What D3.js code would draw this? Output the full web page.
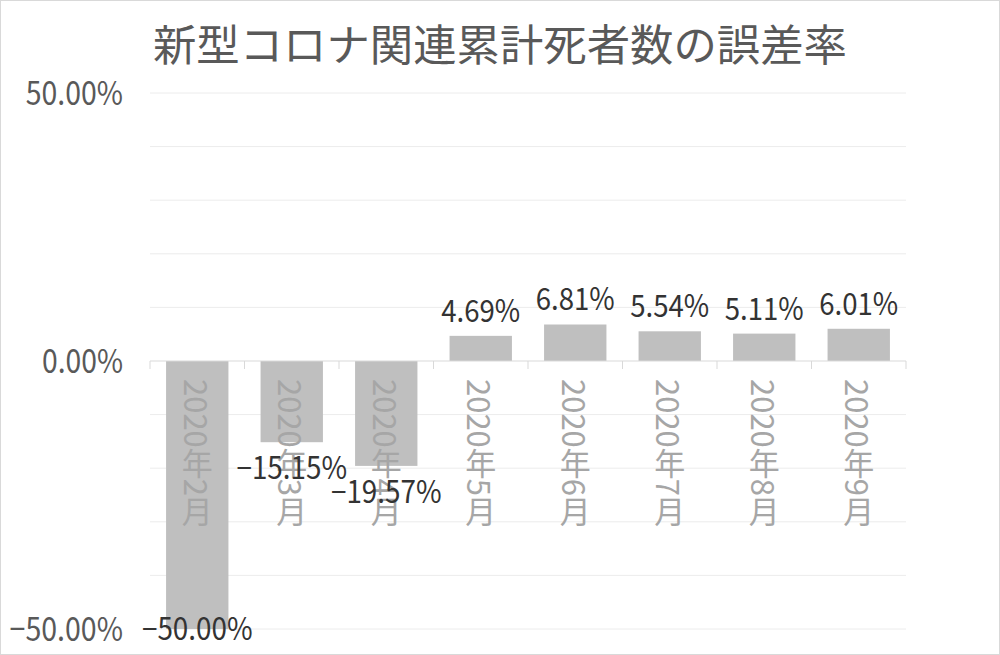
<!DOCTYPE html>
<html>
<head>
<meta charset="utf-8">
<script src="https://cdn.jsdelivr.net/npm/d3@7"></script>
<style>
  body { margin: 0; background: #fff; }
  svg { display: block; font-family: "Noto Sans CJK JP", sans-serif; }
</style>
</head>
<body>
<div id="chart"></div>
<script>
// chart data
const categories = ['2020年2月', '2020年3月', '2020年4月', '2020年5月', '2020年6月', '2020年7月', '2020年8月', '2020年9月'];
const errorRates = [-50.00, -15.15, -19.57, 4.69, 6.81, 5.54, 5.11, 6.01];
const yTicks = [-50, -40, -30, -20, -10, 0, 10, 20, 30, 40, 50];
const yTickLabels = ['−50.00%', '0.00%', '50.00%'];
const title = '新型コロナ関連累計死者数の誤差率';

const width = 1000;
const height = 655;
const margin = { top: 93, right: 94, bottom: 26, left: 150 };

const svg = d3.select('#chart')
  .append('svg')
  .attr('width', width)
  .attr('height', height);

// outer frame
svg.append('rect')
  .attr('x', 0.5).attr('y', 0.5)
  .attr('width', width - 1).attr('height', height - 1)
  .attr('fill', '#fff')
  .attr('stroke', '#d9d9d9');

svg.append('text')
  .attr('x', width / 2)
  .attr('y', 61)
  .attr('text-anchor', 'middle')
  .attr('fill', '#595959')
  .style('font-size', '43px')
  .attr('textLength', 694)
  .attr('lengthAdjust', 'spacingAndGlyphs')
  .text(title);

const x = d3.scaleBand()
  .domain(categories)
  .range([margin.left, width - margin.right])
  .paddingInner(0.34)
  .paddingOuter(0.17);

const y = d3.scaleLinear()
  .domain([-50, 50])
  .range([height - margin.bottom, margin.top]);

// gridlines
svg.append('g')
  .selectAll('line')
  .data(yTicks.filter(d => d !== 0))
  .enter()
  .append('line')
  .attr('x1', margin.left)
  .attr('x2', width - margin.right)
  .attr('y1', d => y(d))
  .attr('y2', d => y(d))
  .attr('stroke', '#ececec')
  .attr('stroke-width', 1);

// y tick labels (only every 50%)
const yLabelValues = [-50, 0, 50];
svg.append('g')
  .selectAll('text')
  .data(yLabelValues)
  .enter()
  .append('text')
  .attr('x', 123)
  .attr('y', d => y(d))
  .attr('dy', '0.37em')
  .attr('text-anchor', 'end')
  .attr('fill', '#595959')
  .style('font-size', '33px')
  .attr('textLength', (d, i) => yTickLabels[i].length * 16.2)
  .attr('lengthAdjust', 'spacingAndGlyphs')
  .text((d, i) => yTickLabels[i]);

// bars
svg.append('g')
  .selectAll('rect')
  .data(errorRates)
  .enter()
  .append('rect')
  .attr('x', (d, i) => x(categories[i]))
  .attr('width', x.bandwidth())
  .attr('y', d => y(Math.max(0, d)))
  .attr('height', d => Math.abs(y(d) - y(0)))
  .attr('fill', '#bfbfbf');

// zero axis with tick marks between categories
const axisG = svg.append('g');
axisG.append('line')
  .attr('x1', margin.left)
  .attr('x2', width - margin.right)
  .attr('y1', y(0))
  .attr('y2', y(0))
  .attr('stroke', '#d9d9d9');

const step = x.step();
axisG.selectAll('line.tick')
  .data(d3.range(categories.length + 1))
  .enter()
  .append('line')
  .attr('class', 'tick')
  .attr('x1', i => margin.left + i * step)
  .attr('x2', i => margin.left + i * step)
  .attr('y1', y(0))
  .attr('y2', y(0) + 8)
  .attr('stroke', '#d9d9d9');

// category labels, written vertically
svg.append('g')
  .selectAll('text')
  .data(categories)
  .enter()
  .append('text')
  .attr('x', d => x(d) + x.bandwidth() / 2)
  .attr('y', y(0) + 18)
  .style('writing-mode', 'vertical-rl')
  .attr('fill', '#a6a6a6')
  .style('font-size', '31px')
  .text(d => d);

// value labels
const fmt = d => (d < 0 ? '−' : '') + Math.abs(d).toFixed(2) + '%';
svg.append('g')
  .selectAll('text')
  .data(errorRates)
  .enter()
  .append('text')
  .attr('x', (d, i) => x(categories[i]) + x.bandwidth() / 2)
  .attr('y', d => d >= 0 ? y(d) - 14 : Math.min(y(d) + 37, 640))
  .attr('text-anchor', 'middle')
  .attr('fill', '#333333')
  .style('font-size', '31px')
  .attr('textLength', d => fmt(d).length * 15.8)
  .attr('lengthAdjust', 'spacingAndGlyphs')
  .text(fmt);
</script>
</body>
</html>
